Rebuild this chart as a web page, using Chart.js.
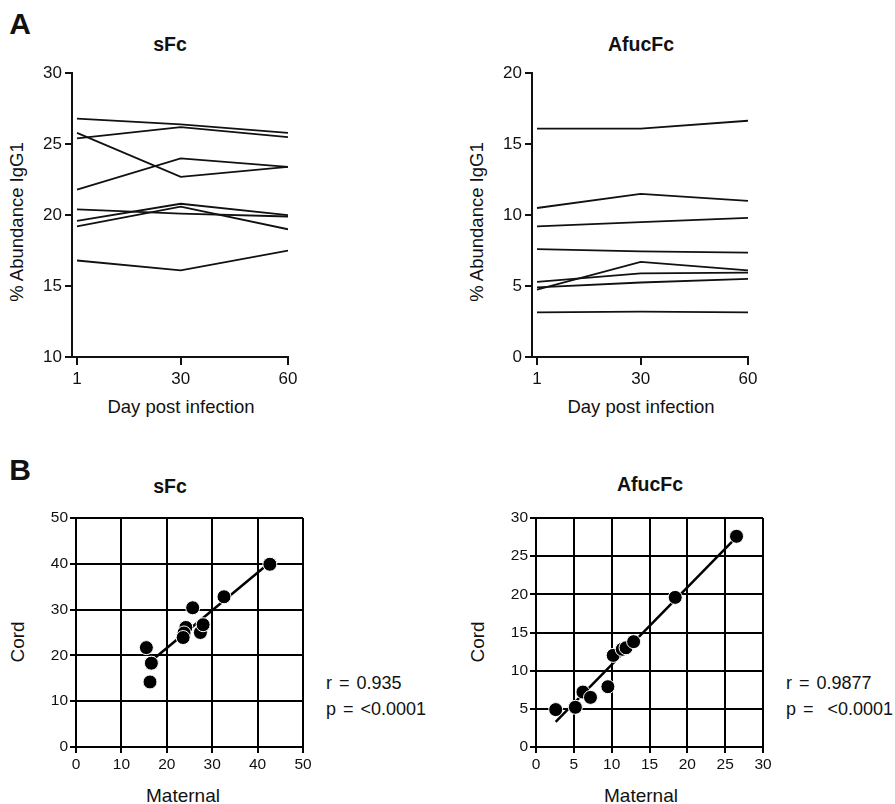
<!DOCTYPE html>
<html>
<head>
  <title>IgG1 Fc glycoforms</title>
  <script src="https://cdn.jsdelivr.net/npm/chart.js"></script>
  <style>
    body { margin: 0; background: #fff; }
    #wrap { position: relative; width: 895px; height: 804px; overflow: hidden;
            font-family: "Liberation Sans", Arial, sans-serif; color: #111; }
    .box { position: absolute; }
    .txt { position: absolute; white-space: pre; transform: translate(-50%, -50%); }
    .rot { transform: translate(-50%, -50%) rotate(-90deg); }
    .letter { font-size: 30px; font-weight: bold; }
    .ttl { font-size: 19.5px; font-weight: bold; }
    .ax { font-size: 18.5px; }
    .axb { font-size: 19px; }
    .stat { position: absolute; white-space: pre; font-size: 18px; word-spacing: 2px; line-height: 26px; }
  </style>
</head>
<body>
<div id="wrap">
  <div class="txt letter" style="left:20px;top:24px">A</div>
  <div class="txt letter" style="left:20px;top:470px">B</div>
  <div class="txt ttl" style="left:170px;top:44px">sFc</div>
  <div class="txt ttl" style="left:641px;top:44px">AfucFc</div>
  <div class="txt ttl" style="left:170px;top:486px">sFc</div>
  <div class="txt ttl" style="left:650px;top:484px">AfucFc</div>

  <div class="txt ax rot" style="left:17px;top:222px">% Abundance IgG1</div>
  <div class="txt ax rot" style="left:477px;top:222px">% Abundance IgG1</div>
  <div class="txt ax" style="left:181px;top:407px">Day post infection</div>
  <div class="txt ax" style="left:641px;top:407px">Day post infection</div>
  <div class="txt axb rot" style="left:18px;top:642px">Cord</div>
  <div class="txt axb rot" style="left:478px;top:642px">Cord</div>
  <div class="txt axb" style="left:183px;top:796px">Maternal</div>
  <div class="txt axb" style="left:641px;top:796px">Maternal</div>

  <div class="stat" style="left:326px;top:670px">r = 0.935
p = &lt;0.0001</div>
  <div class="stat" style="left:786px;top:670px">r = 0.9877
p =  &lt;0.0001</div>

  <div class="box" style="left:0;top:60px;width:310px;height:360px"><canvas id="sfcLines"></canvas></div>
  <div class="box" style="left:460px;top:60px;width:310px;height:360px"><canvas id="afucLines"></canvas></div>
  <div class="box" style="left:0;top:500px;width:320px;height:290px"><canvas id="sfcCorr"></canvas></div>
  <div class="box" style="left:460px;top:500px;width:320px;height:290px"><canvas id="afucCorr"></canvas></div>
</div>

<script>
// days sampled
const days = [1, 30, 60];
const dayTicks = [1, 30, 60];

// sFc % abundance, one array per subject
const sfcA = [26.8, 26.4, 25.8];
const sfcB = [25.4, 26.2, 25.5];
const sfcC = [25.8, 22.7, 23.4];
const sfcD = [21.8, 24.0, 23.4];
const sfcE = [20.4, 20.1, 19.9];
const sfcF = [19.6, 20.8, 20.0];
const sfcG = [19.2, 20.6, 19.0];
const sfcH = [16.8, 16.1, 17.5];

// AfucFc % abundance
const afucA = [16.1, 16.1, 16.65];
const afucB = [10.5, 11.5, 11.0];
const afucC = [9.2, 9.5, 9.8];
const afucD = [7.6, 7.45, 7.35];
const afucE = [5.3, 5.9, 5.95];
const afucF = [4.75, 6.7, 6.1];
const afucG = [4.9, 5.25, 5.5];
const afucH = [3.15, 3.2, 3.15];

// maternal vs cord
const maternalSfc = [15.5, 16.6, 16.3, 25.7, 24.2, 23.8, 23.6, 27.4, 28.0, 32.6, 42.7];
const cordSfc     = [21.7, 18.3, 14.2, 30.4, 26.1, 24.9, 23.9, 25.0, 26.7, 32.8, 39.9];
const sfcFitX = [15.5, 42.7];
const sfcFitY = [17.9, 40.3];

const maternalAfuc = [2.6, 5.2, 6.2, 7.2, 9.5, 10.2, 11.4, 11.9, 12.9, 18.4, 26.5];
const cordAfuc     = [4.9, 5.2, 7.2, 6.5, 7.9, 12.0, 12.8, 13.0, 13.8, 19.6, 27.6];
const afucFitX = [2.6, 26.5];
const afucFitY = [3.3, 27.5];

Chart.defaults.font.family = '"Liberation Sans", Arial, sans-serif';
Chart.defaults.color = '#111';
Chart.defaults.animation = false;

const pairs = (xs, ys) => xs.map((x, i) => ({ x: x, y: ys[i] }));

function lineChart(id, series, yMin, yMax) {
  new Chart(document.getElementById(id), {
    type: 'line',
    data: {
      datasets: series.map(s => ({
        data: pairs(days, s),
        borderColor: '#111',
        borderWidth: 1.8,
        pointRadius: 0,
        tension: 0
      }))
    },
    options: {
      responsive: true,
      maintainAspectRatio: false,
      layout: { padding: { left: 0, top: 12, right: 22, bottom: 0 } },
      plugins: { legend: { display: false }, tooltip: { enabled: false } },
      scales: {
        x: {
          type: 'linear', min: -0.4, max: 60,
          afterBuildTicks: s => { s.ticks = dayTicks.map(v => ({ value: v })); },
          afterFit: s => { s.height = 63; },
          grid: { drawOnChartArea: false, color: '#111', lineWidth: 2, tickLength: 8 },
          border: { color: '#111', width: 2 },
          ticks: { font: { size: 17 }, padding: 4, maxRotation: 0, color: '#111' }
        },
        y: {
          min: yMin, max: yMax,
          afterFit: s => { s.width = 72; },
          grid: { drawOnChartArea: false, color: '#111', lineWidth: 2, tickLength: 7 },
          border: { color: '#111', width: 2 },
          ticks: { stepSize: 5, font: { size: 17 }, padding: 3, color: '#111' }
        }
      }
    }
  });
}

function corrChart(id, xs, ys, fitX, fitY, max, step) {
  new Chart(document.getElementById(id), {
    type: 'scatter',
    data: {
      datasets: [
        {
          data: pairs(xs, ys),
          backgroundColor: '#000',
          borderColor: '#fff',
          borderWidth: 1,
          pointRadius: 7,
          order: 1
        },
        {
          type: 'line',
          data: pairs(fitX, fitY),
          borderColor: '#000',
          borderWidth: 2.5,
          pointRadius: 0,
          order: 2
        }
      ]
    },
    options: {
      responsive: true,
      maintainAspectRatio: false,
      layout: { padding: { left: 0, top: 18, right: 17, bottom: 0 } },
      plugins: { legend: { display: false }, tooltip: { enabled: false } },
      scales: {
        x: {
          type: 'linear', min: 0, max: max,
          afterFit: s => { s.height = 43; },
          grid: { color: '#000', lineWidth: 2, tickLength: 6 },
          border: { color: '#000', width: 2 },
          ticks: { stepSize: step, font: { size: 15.5 }, padding: 2, maxRotation: 0, color: '#111' }
        },
        y: {
          min: 0, max: max,
          afterFit: s => { s.width = 76; },
          grid: { color: '#000', lineWidth: 2, tickLength: 6 },
          border: { color: '#000', width: 2 },
          ticks: { stepSize: step, font: { size: 15.5 }, padding: 2, color: '#111' }
        }
      }
    }
  });
}

lineChart('sfcLines', [sfcA, sfcB, sfcC, sfcD, sfcE, sfcF, sfcG, sfcH], 10, 30);
lineChart('afucLines', [afucA, afucB, afucC, afucD, afucE, afucF, afucG, afucH], 0, 20);
corrChart('sfcCorr', maternalSfc, cordSfc, sfcFitX, sfcFitY, 50, 10);
corrChart('afucCorr', maternalAfuc, cordAfuc, afucFitX, afucFitY, 30, 5);
</script>
</body>
</html>
